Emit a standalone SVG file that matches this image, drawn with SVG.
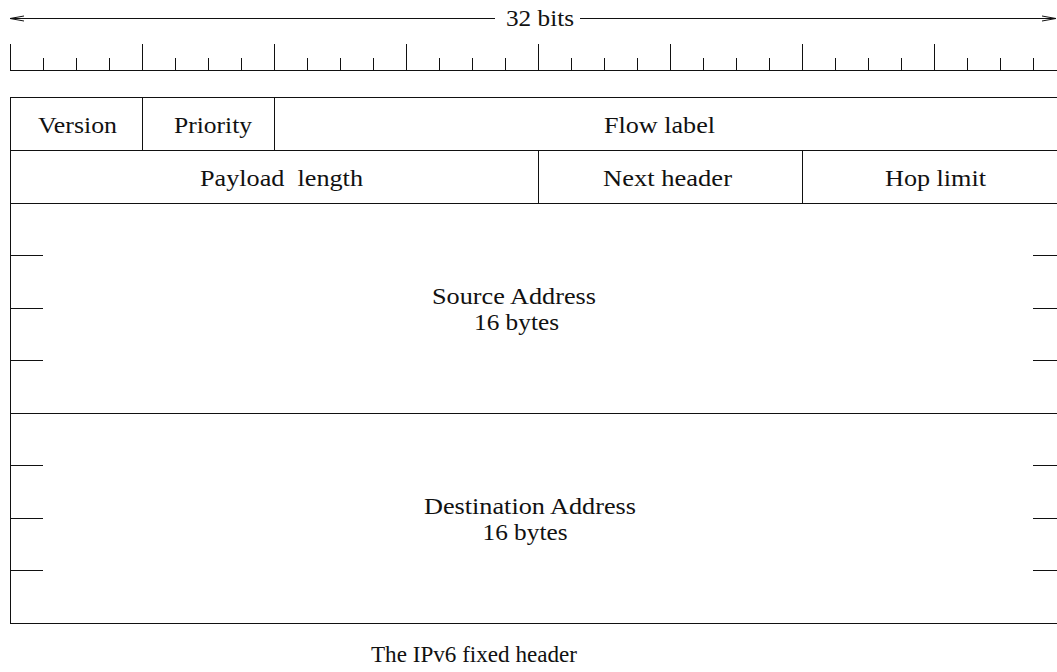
<svg xmlns="http://www.w3.org/2000/svg" width="1057" height="672" viewBox="0 0 1057 672">
  <style>
    .ln { stroke: #111; stroke-width: 1; fill: none; }
    .lbl { font-family: "Liberation Serif", "Times New Roman", serif; font-size: 23px; fill: #111; text-anchor: middle; }
  </style>
  <defs>
    <!-- small tick used on the 16-byte address rows -->
    <path id="tick" d="M0 0 H33" class="ln"/>
  </defs>
  <rect width="1057" height="672" fill="#fff"/>

  <!-- width dimension: 32 bits -->
  <g id="connectors">
    <path class="ln" d="M10 18.5 H495 M580 18.5 H1056"/>
    <path class="ln" d="M24 16 L10 18.5 L24 21"/>
    <path class="ln" d="M1042 16 L1056 18.5 L1042 21"/>
  </g>
  <text class="lbl" x="540" y="26" textLength="68" lengthAdjust="spacingAndGlyphs">32 bits</text>

  <!-- bit ruler: one tick per bit, taller tick per byte -->
  <g id="ruler" class="ln">
    <path d="M10 70.5 H1066"/>
    <path d="M10.5 44 V70 M43.5 58 V70 M76.5 58 V70 M109.5 58 V70
             M142.5 44 V70 M175.5 58 V70 M208.5 58 V70 M241.5 58 V70
             M274.5 44 V70 M307.5 58 V70 M340.5 58 V70 M373.5 58 V70
             M406.5 44 V70 M439.5 58 V70 M472.5 58 V70 M505.5 58 V70
             M538.5 44 V70 M571.5 58 V70 M604.5 58 V70 M637.5 58 V70
             M670.5 44 V70 M703.5 58 V70 M736.5 58 V70 M769.5 58 V70
             M802.5 44 V70 M835.5 58 V70 M868.5 58 V70 M901.5 58 V70
             M934.5 44 V70 M967.5 58 V70 M1000.5 58 V70 M1033.5 58 V70"/>
  </g>

  <!-- header outline -->
  <rect id="header" class="ln" x="10.5" y="97.5" width="1056" height="526"/>

  <g id="version">
    <path class="ln" d="M142.5 97 V150"/>
    <text class="lbl" x="77.5" y="132.5" textLength="79" lengthAdjust="spacingAndGlyphs">Version</text>
  </g>
  <g id="priority">
    <path class="ln" d="M274.5 97 V150"/>
    <text class="lbl" x="213" y="132.5" textLength="78" lengthAdjust="spacingAndGlyphs">Priority</text>
  </g>
  <g id="flow-label">
    <path class="ln" d="M10 150.5 H1066"/>
    <text class="lbl" x="659.5" y="132.5" textLength="111" lengthAdjust="spacingAndGlyphs">Flow label</text>
  </g>

  <g id="payload-length">
    <path class="ln" d="M538.5 150 V203"/>
    <text class="lbl" x="281.5" y="185.5" textLength="163" lengthAdjust="spacingAndGlyphs" xml:space="preserve">Payload  length</text>
  </g>
  <g id="next-header">
    <path class="ln" d="M802.5 150 V203"/>
    <text class="lbl" x="667.5" y="185.5" textLength="129" lengthAdjust="spacingAndGlyphs">Next header</text>
  </g>
  <g id="hop-limit">
    <path class="ln" d="M10 203.5 H1066"/>
    <text class="lbl" x="935.5" y="185.5" textLength="101" lengthAdjust="spacingAndGlyphs">Hop limit</text>
  </g>

  <g id="source-address">
    <use href="#tick" x="10" y="255.5"/><use href="#tick" x="10" y="308.5"/><use href="#tick" x="10" y="360.5"/>
    <use href="#tick" x="1033" y="255.5"/><use href="#tick" x="1033" y="308.5"/><use href="#tick" x="1033" y="360.5"/>
    <path class="ln" d="M10 413.5 H1066"/>
    <text class="lbl" x="514" y="304" textLength="164" lengthAdjust="spacingAndGlyphs">Source Address</text>
    <text class="lbl" x="516.5" y="329.5" textLength="85" lengthAdjust="spacingAndGlyphs">16 bytes</text>
  </g>

  <g id="destination-address">
    <use href="#tick" x="10" y="465.5"/><use href="#tick" x="10" y="518.5"/><use href="#tick" x="10" y="570.5"/>
    <use href="#tick" x="1033" y="465.5"/><use href="#tick" x="1033" y="518.5"/><use href="#tick" x="1033" y="570.5"/>
    <text class="lbl" x="530" y="514" textLength="212" lengthAdjust="spacingAndGlyphs">Destination Address</text>
    <text class="lbl" x="525" y="539.5" textLength="85" lengthAdjust="spacingAndGlyphs">16 bytes</text>
  </g>

  <text id="caption" class="lbl" x="474" y="661.5" textLength="206" lengthAdjust="spacingAndGlyphs">The IPv6 fixed header</text>
</svg>
